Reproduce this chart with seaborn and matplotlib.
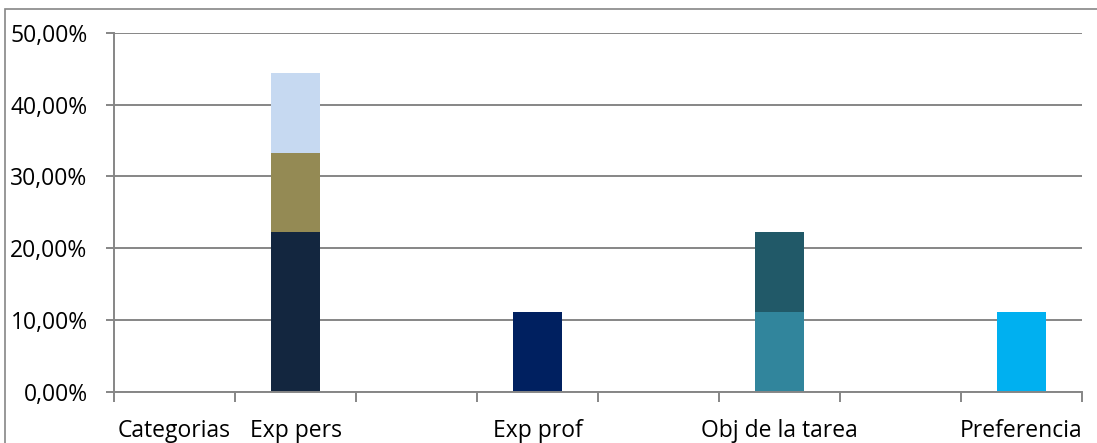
import numpy as np
import pandas as pd
import seaborn as sns
import matplotlib.pyplot as plt
import matplotlib.patches as patches
from matplotlib.ticker import FuncFormatter, FixedLocator

# categories on the x axis (some slots carry no label)
categories = ["Categorias", "Exp pers", "c3", "Exp prof", "c5", "Obj de la tarea", "c7", "Preferencia"]
tick_labels = ["Categorias", "Exp pers", "", "Exp prof", "", "Obj de la tarea", "", "Preferencia"]

# stacked segments, bottom to top: (series name, category, value in %)
series_names = ["s1", "s2", "s3", "s4", "s5", "s6", "s7"]
series_cats = ["Exp pers", "Exp pers", "Exp pers", "Exp prof", "Obj de la tarea", "Obj de la tarea", "Preferencia"]
series_values = [22.22, 11.11, 11.11, 11.11, 11.11, 11.11, 11.11]
series_colors = ["#13263F", "#948A54", "#C6D9F1", "#002060", "#31859C", "#215968", "#00B0F0"]

df = pd.DataFrame({"serie": series_names, "cat": series_cats, "value": series_values})
# cumulative tops so each later segment sits on the one before it
df["top"] = df.groupby("cat")["value"].cumsum()

sns.set_style("white")
plt.rcParams["font.family"] = ["Open Sans", "DejaVu Sans"]

fig = plt.figure(figsize=(10.97, 4.43), dpi=100)
ax = fig.add_axes([114 / 1097, 1 - 391.5 / 443, (1082 - 114) / 1097, (391.5 - 33) / 443])

grid_c = "#868686"
ax.set_axisbelow(True)
ax.yaxis.grid(True, color=grid_c, linewidth=1.4)

# draw from top segment down, so lower segments cover the tall bars
sns.barplot(data=df, x="cat", y="top", hue="serie", order=categories,
            hue_order=series_names[::-1], palette=dict(zip(series_names, series_colors)),
            dodge=False, width=0.405, saturation=1, linewidth=0, legend=False, ax=ax)

ax.set_xlim(-0.5, len(categories) - 0.5)
ax.set_ylim(0, 50)
ax.set_yticks(np.arange(0, 51, 10))
ax.yaxis.set_major_formatter(FuncFormatter(lambda v, p: f"{v:.2f}".replace(".", ",") + "%"))
ax.set_xticks(range(len(categories)))
ax.set_xticklabels(tick_labels)
ax.xaxis.set_minor_locator(FixedLocator(np.arange(-0.5, len(categories), 1)))
ax.tick_params(axis="x", which="major", length=0, pad=19.5, labelsize=16.5, colors="black")
ax.tick_params(axis="x", which="minor", length=7, width=1.4, color=grid_c, direction="out", bottom=True)
ax.tick_params(axis="y", length=6, width=1.4, color=grid_c, direction="out", pad=13,
               labelsize=16.5, labelcolor="black", left=True)
ax.set_xlabel("")
ax.set_ylabel("")

for side in ["top", "right"]:
    ax.spines[side].set_visible(False)
for side in ["left", "bottom"]:
    ax.spines[side].set_color(grid_c)
    ax.spines[side].set_linewidth(1.4)

# outer chart frame
fig.patches.append(patches.Rectangle((5 / 1097, -0.1), 1.2, 1.1 - 9 / 443,
                                     transform=fig.transFigure, fill=False,
                                     edgecolor=grid_c, linewidth=1.2))

fig.savefig("out.png", dpi=100)
